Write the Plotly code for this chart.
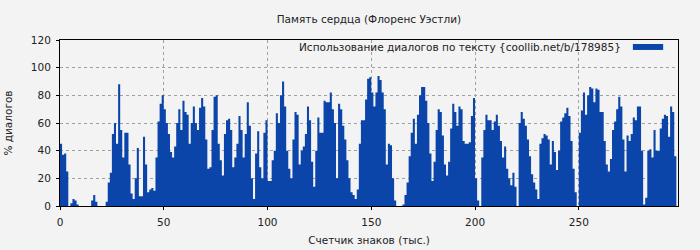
import plotly.graph_objects as go
import numpy as np

title_text = "Память сердца (Флоренс Уэстли)"
series_name = "Использование диалогов по тексту {coollib.net/b/178985}"
x_title = "Счетчик знаков (тыс.)"
y_title = "% диалогов"

# dialogue share (%) per thousand characters, bins [k-1, k) for k = 1..297
dialog_pct = [
    45, 37, 38, 25, 0, 2, 5, 4, 1, 0,
    0, 0, 0, 0, 0, 4, 8, 3, 0, 0,
    0, 0, 3, 17, 24, 52, 60, 45, 88, 55,
    35, 53, 53, 30, 9, 5, 20, 42, 7, 7,
    50, 30, 10, 12, 13, 11, 35, 61, 74, 80,
    70, 60, 52, 39, 35, 43, 60, 70, 55, 76,
    68, 66, 45, 60, 72, 60, 55, 71, 78, 72,
    48, 27, 28, 55, 79, 80, 45, 33, 22, 52,
    62, 63, 55, 28, 35, 45, 65, 55, 35, 52,
    75, 58, 20, 5, 38, 54, 28, 20, 53, 62,
    18, 18, 33, 40, 67, 60, 80, 90, 72, 40,
    27, 20, 48, 68, 66, 30, 40, 43, 52, 72,
    62, 32, 14, 40, 64, 53, 53, 76, 75, 75,
    82, 70, 60, 20, 74, 70, 58, 48, 33, 20,
    10, 8, 5, 12, 45, 62, 62, 77, 92, 93,
    82, 72, 82, 94, 91, 82, 70, 30, 45, 44,
    20, 4, 0, 0, 0, 1, 8, 17, 36, 53,
    63, 45, 66, 80, 86, 86, 76, 60, 38, 18,
    32, 55, 70, 68, 51, 30, 22, 32, 56, 74,
    68, 58, 72, 70, 47, 45, 45, 46, 65, 78,
    20, 4, 0, 35, 55, 66, 62, 62, 55, 61,
    66, 58, 47, 35, 43, 27, 20, 15, 24, 14,
    0, 60, 68, 63, 58, 48, 36, 23, 17, 12,
    5, 45, 49, 52, 51, 48, 30, 47, 39, 26,
    40, 61, 64, 67, 71, 65, 47, 27, 10, 0,
    53, 69, 82, 66, 80, 86, 85, 75, 85, 84,
    68, 68, 47, 30, 25, 34, 55, 61, 70, 79,
    72, 48, 25, 51, 47, 52, 64, 62, 72, 72,
    40, 1, 6, 40, 41, 35, 55, 40, 40, 56,
    63, 66, 65, 50, 72, 68, 36,
]
bin_start_k = list(range(len(dialog_pct)))

x_ticks = [0, 50, 100, 150, 200, 250]
y_ticks = [0, 20, 40, 60, 80, 100, 120]

BAR = "#0b45aa"
BG = "#f3f3f3"
FONT = "DejaVu Sans"
FS = 10.5

# histogram-style bars drawn as one seamless filled step path
step_x = bin_start_k + [len(dialog_pct)]
step_y = dialog_pct + [dialog_pct[-1]]

fig = go.Figure()
fig.add_trace(go.Scatter(
    x=step_x, y=step_y, mode="lines", line=dict(shape="hv", width=0, color=BAR),
    fill="tozeroy", fillcolor=BAR, name=series_name, showlegend=False,
))

fig.update_layout(
    width=700, height=250,
    margin=dict(l=60, r=22, t=40, b=44, autoexpand=False),
    paper_bgcolor=BG, plot_bgcolor=BG,
    font=dict(family=FONT, size=FS, color="#222"),
    title=dict(text=title_text, x=0.527, xanchor="center", y=1 - 19 / 250,
               yanchor="middle", font=dict(family=FONT, size=FS, color="#222")),
    xaxis=dict(range=[0, 297.8], tickvals=x_ticks, showgrid=True, automargin=False,
               gridcolor="#a0a0a0", griddash="dot", gridwidth=1,
               showline=True, linecolor="black", linewidth=1, mirror=True,
               ticks="outside", ticklen=3, tickcolor="black", zeroline=False,
               ticklabelstandoff=3,
               title=dict(text=x_title, standoff=10,
                          font=dict(family=FONT, size=FS, color="#222"))),
    yaxis=dict(range=[0, 120], tickvals=y_ticks, showgrid=True, automargin=False,
               gridcolor="#a0a0a0", griddash="dot", gridwidth=1,
               showline=True, linecolor="black", linewidth=1, mirror=True,
               ticks="outside", ticklen=3, tickcolor="black", zeroline=False,
               ticklabelstandoff=3,
               title=dict(text=y_title, standoff=16,
                          font=dict(family=FONT, size=FS, color="#222"))),
)

# legend entry drawn as text + swatch in the top right of the plot
fig.add_annotation(text=series_name, xref="paper", yref="paper",
                   x=0.911, y=0.958, xanchor="right", yanchor="middle",
                   showarrow=False, font=dict(family=FONT, size=FS, color="#222"))
fig.add_shape(type="rect", xref="paper", yref="paper",
              x0=0.927, x1=0.976, y0=0.940, y1=0.976,
              fillcolor=BAR, line=dict(width=0))

fig.write_html("out.html")
